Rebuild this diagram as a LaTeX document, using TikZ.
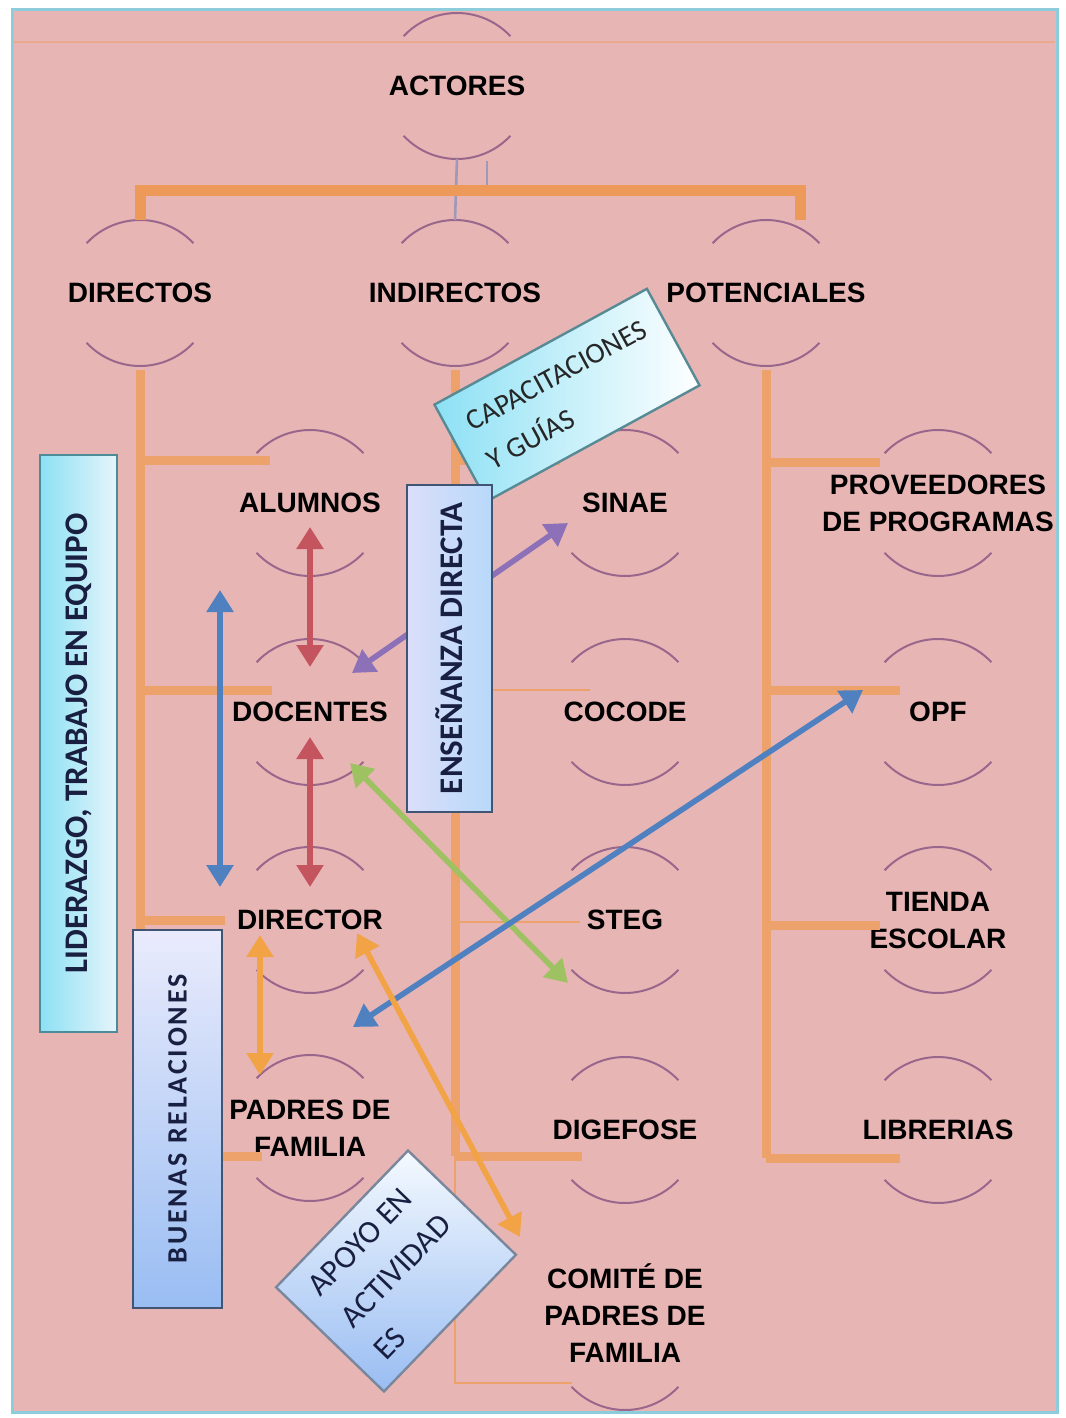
\documentclass[tikz,border=0pt]{standalone}
\usepackage{fontspec}
\setmainfont{Liberation Sans}
\newfontfamily\boxfont{Carlito}
\newfontfamily\spacedboxfont{Carlito}[LetterSpace=10]
\usepackage{tikz}
\usetikzlibrary{arrows.meta, positioning, calc}
\definecolor{pinkground}{rgb}{0.91, 0.71, 0.71}
\definecolor{framecyan}{rgb}{0.55, 0.80, 0.86}
\definecolor{trunkorange}{rgb}{0.93, 0.63, 0.42}
\definecolor{barorange}{rgb}{0.93, 0.60, 0.35}
\definecolor{ringmauve}{rgb}{0.60, 0.40, 0.55}
\definecolor{stubgray}{rgb}{0.62, 0.60, 0.72}
\definecolor{arrowred}{rgb}{0.77, 0.33, 0.37}
\definecolor{arrowblue}{rgb}{0.31, 0.50, 0.75}
\definecolor{arrowpurple}{rgb}{0.55, 0.44, 0.72}
\definecolor{arrowgreen}{rgb}{0.62, 0.76, 0.38}
\definecolor{arrowamber}{rgb}{0.95, 0.64, 0.27}
\definecolor{boxcyan}{rgb}{0.55, 0.88, 0.96}
\definecolor{boxpale}{rgb}{0.90, 0.96, 0.98}
\definecolor{boxlavender}{rgb}{0.86, 0.87, 0.98}
\definecolor{boxblue}{rgb}{0.60, 0.74, 0.95}
\definecolor{boxsky}{rgb}{0.72, 0.85, 0.98}
\definecolor{boxedge}{rgb}{0.25, 0.33, 0.45}
\definecolor{boxteal}{rgb}{0.30, 0.55, 0.60}
\definecolor{boxtext}{rgb}{0.10, 0.12, 0.25}

% two arcs round an actor label
\newcommand{\ringarcs}[1]{%
  \draw[ring] ($(#1)+(43:36.5pt)$) arc[start angle=43, end angle=137, radius=36.5pt];
  \draw[ring] ($(#1)+(223:36.5pt)$) arc[start angle=223, end angle=317, radius=36.5pt];}

\begin{document}
\begin{tikzpicture}[
		x=0.5pt, y=-0.5pt,
		actor/.style={align=center, inner sep=1pt, font=\fontsize{14}{18.5}\selectfont\bfseries},
		ring/.style={draw=ringmauve, line width=1pt},
		bar/.style={draw=barorange, line width=5.5pt},
		trunk/.style={draw=trunkorange, line width=4.5pt},
		twig/.style={draw=trunkorange, line width=1.3pt},
		stub/.style={draw=stubgray, line width=1.3pt},
		link/.style={line width=2.8pt, {Triangle[width=13pt, length=11pt]}-{Triangle[width=13pt, length=11pt]}},
		tagbox/.style={draw=boxedge, line width=1.2pt, align=center, text=boxtext, inner sep=2pt}
	]
	% frame
	\useasboundingbox (0,0) rectangle (1065,1418);
	\fill[white] (0,0) rectangle (1065,1418);
	\draw[draw=framecyan, line width=1.5pt, fill=pinkground] (12,10) rectangle (1057,1412);
	\draw[draw=barorange!45!pinkground, line width=1pt] (14,42) -- (1055,42);

	% actors
	\node[actor] (actores) at (457,86) {ACTORES};
	\node[actor] (directos) at (140,293) {DIRECTOS};
	\node[actor] (indirectos) at (455,293) {INDIRECTOS};
	\node[actor] (potenciales) at (766,293) {POTENCIALES};
	\node[actor] (alumnos) at (310,503) {ALUMNOS};
	\node[actor] (docentes) at (310,712) {DOCENTES};
	\node[actor] (director) at (310,920) {DIRECTOR};
	\node[actor] (padres) at (310,1128) {PADRES DE\\FAMILIA};
	\node[actor] (sinae) at (625,503) {SINAE};
	\node[actor] (cocode) at (625,712) {COCODE};
	\node[actor] (steg) at (625,920) {STEG};
	\node[actor] (digefose) at (625,1130) {DIGEFOSE};
	\node[actor] (comite) at (625,1313) {COMITÉ DE\\PADRES DE\\FAMILIA};
	\node[actor] (proveedores) at (938,503) {PROVEEDORES\\DE PROGRAMAS};
	\node[actor] (opf) at (938,712) {OPF};
	\node[actor] (tienda) at (938,920) {TIENDA\\ESCOLAR};
	\node[actor] (librerias) at (938,1130) {LIBRERIAS};

	% rings
	\ringarcs{actores}
	\ringarcs{directos}
	\ringarcs{indirectos}
	\ringarcs{potenciales}
	\ringarcs{alumnos}
	\ringarcs{docentes}
	\ringarcs{director}
	\ringarcs{padres}
	\ringarcs{sinae}
	\ringarcs{cocode}
	\ringarcs{steg}
	\ringarcs{digefose}
	\ringarcs{proveedores}
	\ringarcs{opf}
	\ringarcs{tienda}
	\ringarcs{librerias}
	\draw[ring] ($(comite)+(0,24)+(223:36.5pt)$) arc[start angle=223, end angle=317, radius=36.5pt];

	% tree
	\draw[stub] ($(actores)+(0,73)$) -- ($(indirectos)+(0,-73)$);
	\draw[stub] ($(actores)+(30,75)$) -- ++(0,33);
	\draw[bar] ($(directos)+(0,-73)$) -- ++(0,-30) -- ($(potenciales)+(34,-103)$) -- ++(0,30);

	\draw[trunk] ($(directos)+(0,77)$) -- ++(0,786);
	\draw[trunk] ($(directos)+(0,167)$) -- ++(130,0);
	\draw[trunk] ($(directos)+(0,397)$) -- ++(132,0);
	\draw[trunk] ($(directos)+(0,627)$) -- ++(85,0);
	\draw[trunk] ($(directos)+(0,863)$) -- ++(122,0);

	\draw[trunk] ($(indirectos)+(0,77)$) -- ++(0,786);
	\draw[twig] ($(indirectos)+(0,863)$) -- ++(0,227) -- ++(117,0);
	\draw[trunk] ($(indirectos)+(0,167)$) -- ++(105,0);
	\draw[twig] ($(indirectos)+(0,397)$) -- ++(135,0);
	\draw[twig] ($(indirectos)+(0,629)$) -- ++(125,0);
	\draw[trunk] ($(indirectos)+(0,863)$) -- ++(127,0);

	\draw[trunk] ($(potenciales)+(0,77)$) -- ++(0,788);
	\draw[trunk] ($(potenciales)+(0,169)$) -- ++(114,0);
	\draw[trunk] ($(potenciales)+(0,397)$) -- ++(134,0);
	\draw[trunk] ($(potenciales)+(0,632)$) -- ++(114,0);
	\draw[trunk] ($(potenciales)+(0,865)$) -- ++(134,0);

	% relations
	\draw[link, arrowred] ($(alumnos)+(0,24)$) -- ($(docentes)+(0,-45)$);
	\draw[link, arrowred] ($(docentes)+(0,25)$) -- ($(director)+(0,-33)$);
	\draw[link, arrowblue] ($(alumnos)+(-90,87)$) -- ($(director)+(-90,-33)$);
	\draw[link, arrowpurple] ($(docentes)+(42,-39)$) -- ($(sinae)+(-57,20)$);
	\draw[link, arrowgreen] ($(docentes)+(40,51)$) -- ($(steg)+(-57,63)$);
	\draw[link, arrowblue] ($(director)+(43,107)$) -- ($(opf)+(-75,-22)$);
	\draw[link, arrowamber] ($(director)+(-50,15)$) -- ($(padres)+(-50,-53)$);
	\draw[link, arrowamber] ($(director)+(47,13)$) -- ($(comite)+(-105,-76)$);

	% tags
	\node[tagbox, draw=boxteal, rotate=90, minimum width=288.5pt, minimum height=38.5pt, left color=boxcyan, right color=boxpale, font=\boxfont\bfseries\fontsize{16.5}{20}\selectfont] (liderazgo) at (78.5,743.5) {LIDERAZGO, TRABAJO EN EQUIPO};
	\node[tagbox, draw=boxteal!80!gray, rotate=28.6, minimum width=121pt, minimum height=55pt, left color=boxcyan, right color=white, align=left, text=black!85, font=\boxfont\fontsize{14.5}{22}\selectfont] (capacitaciones) at (567,395) {CAPACITACIONES\\Y GUÍAS};
	\node[tagbox, rotate=90, minimum width=163.5pt, minimum height=42.5pt, left color=boxlavender, right color=boxsky, font=\boxfont\bfseries\fontsize{16.5}{20}\selectfont] (ensenanza) at (449.5,648.5) {ENSEÑANZA DIRECTA};
	\node[tagbox, rotate=90, minimum width=189pt, minimum height=44.5pt, top color=boxlavender!60!white, bottom color=boxblue, font=\spacedboxfont\bfseries\fontsize{14}{16}\selectfont] (buenas) at (177.5,1119) {BUENAS RELACIONES};
	\node[tagbox, draw=boxedge!70, rotate=46, minimum width=95pt, minimum height=75pt, top color=white!85!boxsky, bottom color=boxblue, align=left, font=\boxfont\fontsize{16}{23}\selectfont] (apoyo) at (396,1271) {APOYO EN\\ACTIVIDAD\\ES};
\end{tikzpicture}
\end{document}
